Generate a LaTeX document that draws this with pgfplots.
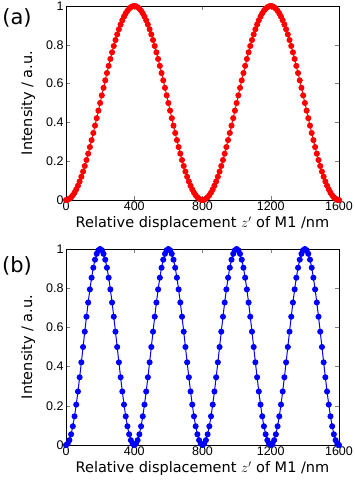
\documentclass[border=0pt]{standalone}
\usepackage{fontspec}
\setmainfont{DejaVu Sans}
\newfontfamily\tickfont{Liberation Sans}
\usepackage{pgfplots}
\pgfplotsset{compat=1.18}

\pgfplotsset{
  panel/.style={
    scale only axis,
    width=273pt,
    xmin=0, xmax=1600, ymin=0, ymax=1,
    xtick={0,400,800,1200,1600},
    xticklabels={0,400,800,1200,1600},
    ytick={0,0.2,0.4,0.6,0.8,1},
    yticklabels={0,0.2,0.4,0.6,0.8,1},
    tick align=inside,
    major tick length=4pt,
    axis line style={line width=0.8pt},
    ticklabel style={font=\tickfont\fontsize{12.5}{13}\selectfont},
    xticklabel style={yshift=2pt},
    yticklabel style={xshift=1pt},
    label style={font=\fontsize{14.5}{15}\selectfont},
    xlabel={Relative displacement $z'$ of M1 /nm},
    ylabel={Intensity / a.u.},
    xlabel style={yshift=1pt},
    ylabel style={yshift=4pt},
    clip=false,
  },
}

\begin{document}
\begin{tikzpicture}
\useasboundingbox (0pt,0pt) rectangle (354pt,481pt);

% panel (a)
\begin{axis}[panel, at={(66pt,281pt)}, anchor=south west, height=194pt]
\addplot[red, line width=1pt, mark=*, mark size=2.5pt] coordinates {
(0,0) (10,.0015) (20,.0062) (30,.0138) (40,.0245) (50,.0381) (60,.0545) (70,.0737) (80,.0955) (90,.1198)
(100,.1464) (110,.1753) (120,.2061) (130,.2388) (140,.2730) (150,.3087) (160,.3455) (170,.3833) (180,.4218) (190,.4608)
(200,.5) (210,.5392) (220,.5782) (230,.6167) (240,.6545) (250,.6913) (260,.7270) (270,.7612) (280,.7939) (290,.8247)
(300,.8536) (310,.8802) (320,.9045) (330,.9263) (340,.9455) (350,.9619) (360,.9755) (370,.9862) (380,.9938) (390,.9985)
(400,1) (410,.9985) (420,.9938) (430,.9862) (440,.9755) (450,.9619) (460,.9455) (470,.9263) (480,.9045) (490,.8802)
(500,.8536) (510,.8247) (520,.7939) (530,.7612) (540,.7270) (550,.6913) (560,.6545) (570,.6167) (580,.5782) (590,.5392)
(600,.5) (610,.4608) (620,.4218) (630,.3833) (640,.3455) (650,.3087) (660,.2730) (670,.2388) (680,.2061) (690,.1753)
(700,.1464) (710,.1198) (720,.0955) (730,.0737) (740,.0545) (750,.0381) (760,.0245) (770,.0138) (780,.0062) (790,.0015)
(800,0) (810,.0015) (820,.0062) (830,.0138) (840,.0245) (850,.0381) (860,.0545) (870,.0737) (880,.0955) (890,.1198)
(900,.1464) (910,.1753) (920,.2061) (930,.2388) (940,.2730) (950,.3087) (960,.3455) (970,.3833) (980,.4218) (990,.4608)
(1000,.5) (1010,.5392) (1020,.5782) (1030,.6167) (1040,.6545) (1050,.6913) (1060,.7270) (1070,.7612) (1080,.7939) (1090,.8247)
(1100,.8536) (1110,.8802) (1120,.9045) (1130,.9263) (1140,.9455) (1150,.9619) (1160,.9755) (1170,.9862) (1180,.9938) (1190,.9985)
(1200,1) (1210,.9985) (1220,.9938) (1230,.9862) (1240,.9755) (1250,.9619) (1260,.9455) (1270,.9263) (1280,.9045) (1290,.8802)
(1300,.8536) (1310,.8247) (1320,.7939) (1330,.7612) (1340,.7270) (1350,.6913) (1360,.6545) (1370,.6167) (1380,.5782) (1390,.5392)
(1400,.5) (1410,.4608) (1420,.4218) (1430,.3833) (1440,.3455) (1450,.3087) (1460,.2730) (1470,.2388) (1480,.2061) (1490,.1753)
(1500,.1464) (1510,.1198) (1520,.0955) (1530,.0737) (1540,.0545) (1550,.0381) (1560,.0245) (1570,.0138) (1580,.0062) (1590,.0015)
(1600,0)
};
\end{axis}

% panel (b)
\begin{axis}[panel, at={(66pt,36pt)}, anchor=south west, height=196pt]
\addplot[blue, line width=1pt, mark=*, mark size=2.5pt] coordinates {
(0,0) (10,.0062) (20,.0245) (30,.0545) (40,.0955) (50,.1464) (60,.2061) (70,.2730) (80,.3455) (90,.4218)
(100,.5) (110,.5782) (120,.6545) (130,.7270) (140,.7939) (150,.8536) (160,.9045) (170,.9455) (180,.9755) (190,.9938)
(200,1) (210,.9938) (220,.9755) (230,.9455) (240,.9045) (250,.8536) (260,.7939) (270,.7270) (280,.6545) (290,.5782)
(300,.5) (310,.4218) (320,.3455) (330,.2730) (340,.2061) (350,.1464) (360,.0955) (370,.0545) (380,.0245) (390,.0062)
(400,0) (410,.0062) (420,.0245) (430,.0545) (440,.0955) (450,.1464) (460,.2061) (470,.2730) (480,.3455) (490,.4218)
(500,.5) (510,.5782) (520,.6545) (530,.7270) (540,.7939) (550,.8536) (560,.9045) (570,.9455) (580,.9755) (590,.9938)
(600,1) (610,.9938) (620,.9755) (630,.9455) (640,.9045) (650,.8536) (660,.7939) (670,.7270) (680,.6545) (690,.5782)
(700,.5) (710,.4218) (720,.3455) (730,.2730) (740,.2061) (750,.1464) (760,.0955) (770,.0545) (780,.0245) (790,.0062)
(800,0) (810,.0062) (820,.0245) (830,.0545) (840,.0955) (850,.1464) (860,.2061) (870,.2730) (880,.3455) (890,.4218)
(900,.5) (910,.5782) (920,.6545) (930,.7270) (940,.7939) (950,.8536) (960,.9045) (970,.9455) (980,.9755) (990,.9938)
(1000,1) (1010,.9938) (1020,.9755) (1030,.9455) (1040,.9045) (1050,.8536) (1060,.7939) (1070,.7270) (1080,.6545) (1090,.5782)
(1100,.5) (1110,.4218) (1120,.3455) (1130,.2730) (1140,.2061) (1150,.1464) (1160,.0955) (1170,.0545) (1180,.0245) (1190,.0062)
(1200,0) (1210,.0062) (1220,.0245) (1230,.0545) (1240,.0955) (1250,.1464) (1260,.2061) (1270,.2730) (1280,.3455) (1290,.4218)
(1300,.5) (1310,.5782) (1320,.6545) (1330,.7270) (1340,.7939) (1350,.8536) (1360,.9045) (1370,.9455) (1380,.9755) (1390,.9938)
(1400,1) (1410,.9938) (1420,.9755) (1430,.9455) (1440,.9045) (1450,.8536) (1460,.7939) (1470,.7270) (1480,.6545) (1490,.5782)
(1500,.5) (1510,.4218) (1520,.3455) (1530,.2730) (1540,.2061) (1550,.1464) (1560,.0955) (1570,.0545) (1580,.0245) (1590,.0062)
(1600,0)
};
\end{axis}

\node[font=\fontsize{21}{21}\selectfont] at (17pt,463pt) {(a)};
\node[font=\fontsize{21}{21}\selectfont] at (17pt,215pt) {(b)};
\end{tikzpicture}
\end{document}
